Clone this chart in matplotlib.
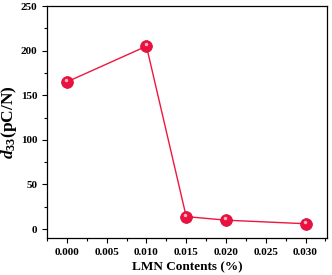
import matplotlib
matplotlib.use('Agg')
import matplotlib.pyplot as plt
from matplotlib.ticker import MultipleLocator

# LMN content (%) and d33 values
lmn = [0.000, 0.010, 0.015, 0.020, 0.030]
d33 = [165, 205, 14, 10, 6]

plt.rcParams['font.family'] = 'Liberation Serif'
plt.rcParams['font.weight'] = 'bold'
plt.rcParams['mathtext.fontset'] = 'custom'
plt.rcParams['mathtext.rm'] = 'Liberation Serif:bold'
plt.rcParams['mathtext.it'] = 'Liberation Serif:bold:italic'
plt.rcParams['mathtext.bf'] = 'Liberation Serif:bold'

fig = plt.figure(figsize=(3.32, 2.75), dpi=100)
ax = fig.add_axes([0.1416, 0.1345, 0.8434, 0.8435])

ax.plot(lmn, d33, '-', color='#f0163e', lw=1.0, zorder=2)
ax.plot(lmn, d33, 'o', ms=8.5, color='#ec1040', mec='#d00a35', mew=0.5, zorder=3)
# little highlight on each ball
ax.plot([v - 0.0001 for v in lmn], [v + 2 for v in d33], 'o', ms=2.5,
        color='#ffb0c0', mew=0, zorder=4)

ax.set_xlim(-0.0025, 0.0327)
ax.set_ylim(-10, 250)
ax.xaxis.set_major_locator(MultipleLocator(0.005))
ax.xaxis.set_minor_locator(MultipleLocator(0.0025))
ax.yaxis.set_major_locator(MultipleLocator(50))
ax.yaxis.set_minor_locator(MultipleLocator(25))
ax.xaxis.set_major_formatter(plt.FormatStrFormatter('%.3f'))

ax.tick_params(which='both', direction='out', labelsize=8, width=0.8)
ax.tick_params(which='major', length=3.5)
ax.tick_params(which='minor', length=2)
for s in ax.spines.values():
    s.set_linewidth(0.9)

ax.set_xlabel('LMN Contents (%)', fontsize=9.5, fontweight='bold', labelpad=3)
ax.set_ylabel(r'$d_{33}$(pC/N)', fontsize=12.5, fontweight='bold', labelpad=1)

fig.savefig('out.png', dpi=100)
